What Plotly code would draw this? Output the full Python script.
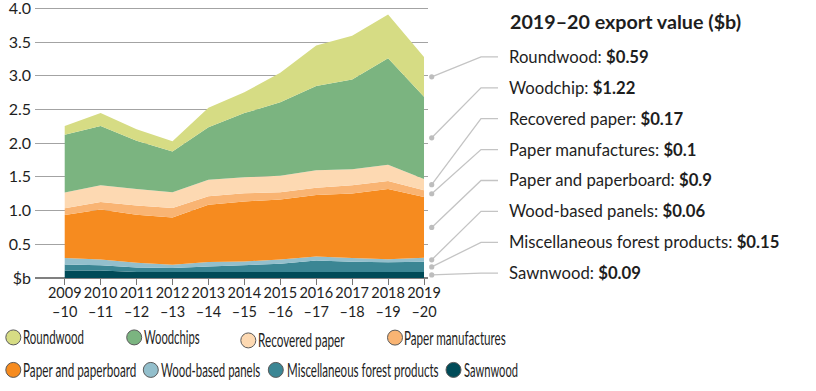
import json
import plotly.graph_objects as go

# ---------------- data ----------------
years = [2009, 2010, 2011, 2012, 2013, 2014, 2015, 2016, 2017, 2018, 2019]
year_labels = ["2009<br>–10", "2010<br>–11", "2011<br>–12", "2012<br>–13", "2013<br>–14",
               "2014<br>–15", "2015<br>–16", "2016<br>–17", "2017<br>–18", "2018<br>–19",
               "2019<br>–20"]

sawnwood = [0.11, 0.11, 0.09, 0.09, 0.10, 0.10, 0.10, 0.10, 0.09, 0.09, 0.09]
misc_forest = [0.09, 0.08, 0.065, 0.06, 0.07, 0.09, 0.11, 0.16, 0.15, 0.145, 0.15]
wood_panels = [0.095, 0.086, 0.072, 0.047, 0.066, 0.056, 0.066, 0.06, 0.055, 0.045, 0.06]
paper_board = [0.64, 0.74, 0.71, 0.70, 0.85, 0.89, 0.89, 0.91, 0.96, 1.04, 0.90]
paper_manuf = [0.10, 0.11, 0.14, 0.14, 0.125, 0.12, 0.105, 0.11, 0.12, 0.12, 0.10]
recovered_paper = [0.235, 0.25, 0.245, 0.235, 0.245, 0.24, 0.245, 0.26, 0.24, 0.24, 0.17]
woodchips = [0.855, 0.88, 0.715, 0.605, 0.78, 0.95, 1.09, 1.25, 1.33, 1.58, 1.22]
roundwood = [0.13, 0.19, 0.17, 0.15, 0.29, 0.31, 0.44, 0.60, 0.65, 0.65, 0.59]

# bottom -> top stacking order
series_names = ["Sawnwood", "Miscellaneous forest products", "Wood-based panels",
                "Paper and paperboard", "Paper manufactures", "Recovered paper",
                "Woodchips", "Roundwood"]
series_values = [sawnwood, misc_forest, wood_panels, paper_board, paper_manuf,
                 recovered_paper, woodchips, roundwood]
series_colors = ["#004b58", "#3b8694", "#93bfcc", "#f68b1f", "#f9b473",
                 "#fdd9b2", "#7bb480", "#d6dc84"]

# right-hand call-out labels (top -> bottom)
callout_names = ["Roundwood", "Woodchip", "Recovered paper", "Paper manufactures",
                 "Paper and paperboard", "Wood-based panels",
                 "Miscellaneous forest products", "Sawnwood"]
callout_values = ["$0.59", "$1.22", "$0.17", "$0.1", "$0.9", "$0.06", "$0.15", "$0.09"]
callout_title = "2019–20 export value ($b)"

# legend layout (reading order)
legend_rows = [["Roundwood", "Woodchips", "Recovered paper", "Paper manufactures"],
               ["Paper and paperboard", "Wood-based panels",
                "Miscellaneous forest products", "Sawnwood"]]

y_tickvals = [0, 0.5, 1.0, 1.5, 2.0, 2.5, 3.0, 3.5, 4.0]
y_ticktext = ["$b", "0.5", "1.0", "1.5", "2.0", "2.5", "3.0", "3.5", "4.0"]

# ---------------- layout geometry ----------------
W, H = 816, 391
Y_MAX = 4.05
L, R, B = 35, 388, 113.4
T = 277.6 - Y_MAX * 67.4
PW, PH = W - L - R, H - T - B
X_RANGE = [2008.173, 2019.111]

FONT = "Lato, 'Open Sans', sans-serif"
TXT = "#1e1e1e"


def px_x(px):
    return (px - L) / PW


def px_y(py):
    return (H - B - py) / PH


def data_x(x):
    return (x - X_RANGE[0]) / (X_RANGE[1] - X_RANGE[0])


def data_y(y):
    return y / Y_MAX


fig = go.Figure()
for name, vals, col in zip(series_names, series_values, series_colors):
    fig.add_trace(go.Scatter(
        x=years, y=vals, name=name, mode="lines", stackgroup="one",
        line=dict(width=0, color=col), fillcolor=col, showlegend=False,
        hoverinfo="x+y+name"))

shapes = []
annotations = []

# ---- call-outs with leader lines ----
annotations.append(dict(
    text="<b>" + callout_title + "</b>", xref="paper", yref="paper",
    x=px_x(509), y=px_y(21.5), xanchor="left", yanchor="middle", showarrow=False,
    borderpad=0, font=dict(family=FONT, size=19.7, color=TXT)))

last = [v[-1] for v in series_values]
bottoms, tops = [], []
acc = 0
for v in last:
    bottoms.append(acc)
    acc += v
    tops.append(acc)
mids = [(b + t) / 2 for b, t in zip(bottoms, tops)][::-1]  # top -> bottom

dot_x = data_x(years[-1]) + 7.7 / PW
elbow_x = px_x(481)
end_x = px_x(498)
row0, row_step = 56.5, 30.9
for i, (nm, val) in enumerate(zip(callout_names, callout_values)):
    ry = px_y(row0 + row_step * i)
    dy = data_y(mids[i])
    shapes.append(dict(type="path", xref="paper", yref="paper",
                       path=f"M {dot_x},{dy} L {elbow_x},{ry} L {end_x},{ry}",
                       line=dict(color="#c4c4c4", width=1.3)))
    shapes.append(dict(type="circle", xref="paper", yref="paper",
                       xsizemode="pixel", ysizemode="pixel",
                       xanchor=dot_x, yanchor=dy, x0=-2.6, x1=2.6, y0=-2.6, y1=2.6,
                       fillcolor="#bdbdbd", line=dict(width=0)))
    annotations.append(dict(
        text=f"{nm}: <b>{val}</b>", xref="paper", yref="paper",
        x=px_x(508), y=ry, xanchor="left", yanchor="middle", showarrow=False,
        borderpad=0, font=dict(family=FONT, size=16.7, color=TXT)))

# ---- custom legend (condensed text as in the original) ----
color_of = dict(zip(series_names, series_colors))
legend_circle_x = [[13.3, 134.2, 248.3, 395.0], [13.3, 150.8, 275.8, 453.5]]
legend_text_x = [[21.7, 142.7, 256.7, 403.3], [21.7, 160.0, 285.7, 462.7]]
legend_text_w = [[61, 55.6, 86.6, 101.7], [113.3, 99.3, 151.6, 54]]
legend_row_y = [[337.0, 337.0, 340.0, 337.2], [369.5, 369.5, 369.5, 369.5]]
legend_start = len(annotations)
widths = []
for r, row in enumerate(legend_rows):
    for c, nm in enumerate(row):
        cy = px_y(legend_row_y[r][c])
        shapes.append(dict(type="circle", xref="paper", yref="paper",
                           xsizemode="pixel", ysizemode="pixel",
                           xanchor=px_x(legend_circle_x[r][c]), yanchor=cy,
                           x0=-7.5, x1=7.5, y0=-7.5, y1=7.5,
                           fillcolor=color_of[nm], line=dict(color="#5a5a5a", width=1)))
        annotations.append(dict(
            text=nm, xref="paper", yref="paper", x=px_x(legend_text_x[r][c]), y=cy,
            xanchor="left", yanchor="middle", align="left", showarrow=False,
            borderpad=0, font=dict(family=FONT, size=18.5, color=TXT)))
        widths.append(legend_text_w[r][c])

fig.update_layout(
    width=W, height=H, autosize=False,
    margin=dict(l=L, r=R, t=T, b=B, pad=0, autoexpand=False),
    paper_bgcolor="white", plot_bgcolor="white",
    showlegend=False,
    shapes=shapes, annotations=annotations,
    xaxis=dict(range=X_RANGE, tickvals=years, ticktext=year_labels, tickangle=0,
               showgrid=False, zeroline=False, showline=False, automargin=False,
               ticks="outside", ticklen=6, tickwidth=1.3, tickcolor="#777",
               ticklabelstandoff=-4, ticklabeloverflow="allow",
               tickfont=dict(family=FONT, size=14.5, color=TXT)),
    yaxis=dict(range=[0, Y_MAX], tickvals=y_tickvals, ticktext=y_ticktext,
               showgrid=True, gridcolor="#a3a3a3", gridwidth=1.4,
               zeroline=True, zerolinecolor="#808080", zerolinewidth=1.6,
               showline=False, ticks="", ticklabelstandoff=3, automargin=False,
               ticklabeloverflow="allow",
               tickfont=dict(family=FONT, size=16, color=TXT)),
    font=dict(family=FONT, color=TXT),
)

post = """
(function(){
  var gd = document.getElementById('{plot_id}');
  var start = %d, widths = %s;
  function fix(){
    gd.querySelectorAll('g.annotation').forEach(function(g){
      var i = +g.getAttribute('data-index') - start;
      if(i >= 0 && i < widths.length){
        var t = g.querySelector('text.annotation-text');
        if(t){ t.setAttribute('textLength', widths[i]);
               t.setAttribute('lengthAdjust', 'spacingAndGlyphs'); }
        var bg = g.querySelector('rect.bg');
        if(bg){ bg.setAttribute('width', widths[i]); }
      }
    });
  }
  document.body.style.margin = '0';
  fix();
  if(gd.on){ gd.on('plotly_afterplot', fix); }
  setTimeout(fix, 50);
})();
""" % (legend_start, json.dumps(widths))

fig.write_html("out.html", config={"displayModeBar": False}, post_script=post)
